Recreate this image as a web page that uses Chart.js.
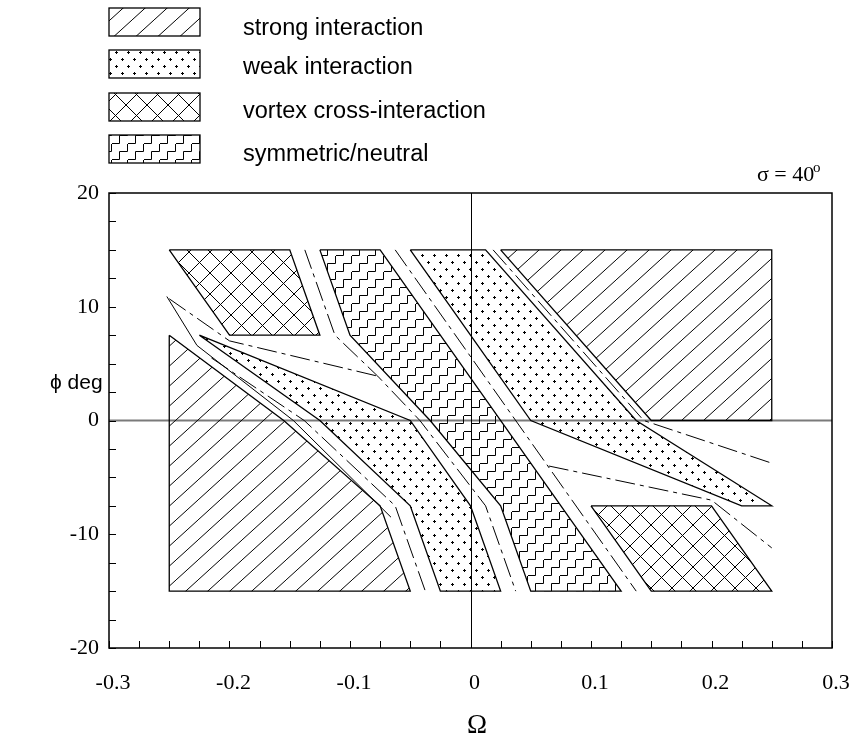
<!DOCTYPE html>
<html>
<head>
<meta charset="utf-8">
<title>Interaction regions, sigma = 40</title>
<script src="https://cdn.jsdelivr.net/npm/chart.js@4.4.1/dist/chart.umd.min.js"></script>
<style>
  html, body { margin: 0; padding: 0; background: #fff; }
  #chart { display: block; }
</style>
</head>
<body>
<canvas id="chart" width="852" height="739"></canvas>
<script>
// region outlines, in data units (Omega, phi deg)
const strongAX = [0.025, 0.25, 0.25, 0.15];
const strongAY = [15, 15, 0, 0];
const strongBX = [-0.25, -0.155, -0.075, -0.05, -0.25];
const strongBY = [7.5, 0, -7.5, -15, -15];

const weakAX = [-0.05, 0.0125, 0.1375, 0.25, 0.225, 0.05, 0];
const weakAY = [15, 15, 0, -7.5, -7.5, 0, 7.5];
const weakBX = [-0.225, -0.05, 0, 0.025, -0.025, -0.05, -0.125];
const weakBY = [7.5, 0, -7.5, -15, -15, -7.5, 0];

const vortexAX = [-0.25, -0.15, -0.125, -0.2];
const vortexAY = [15, 15, 7.5, 7.5];
const vortexBX = [0.1, 0.2, 0.25, 0.15];
const vortexBY = [-7.5, -7.5, -15, -15];

const neutralX = [-0.125, -0.075, 0.125, 0.05, 0.025, -0.0335, -0.1];
const neutralY = [15, 15, -15, -15, -7.5, 0, 7.5];

// dash-dot boundary lines
const ddAX = [-0.1375, -0.1125, -0.077, -0.042, 0.0125, 0.0375];
const ddAY = [15, 7.5, 3.9, 0, -7.5, -15];
const ddBX = [-0.215, -0.138, -0.0625, -0.0375];
const ddBY = [5.5, 0, -7.5, -15];
const ddCX = [0.01875, 0.14375, 0.25];
const ddCY = [15, 0, -3.75];
const ddDX = [-0.0625, 0.1375];
const ddDY = [15, -15];
const ddQX = [-0.25, -0.2, -0.077];
const ddQY = [10.7, 7, 3.9];
const ddRX = [0.065, 0.2, 0.25];
const ddRY = [-4, -7, -11.2];
// extra solid line on the left
const solidPX = [-0.252, -0.227, -0.147, -0.066];
const solidPY = [10.9, 6.6, 0, -8.5];

const legendLabels = ['strong interaction', 'weak interaction', 'vortex cross-interaction', 'symmetric/neutral'];
const legendKinds = ['strong', 'weak', 'vortex', 'neutral'];
const xTickLabels = [-0.3, -0.2, -0.1, 0, 0.1, 0.2, 0.3];
const yTickLabels = [-20, -10, 0, 10, 20];

const canvas = document.getElementById('chart');
const mainCtx = canvas.getContext('2d');

function makePattern(kind) {
  const c = document.createElement('canvas');
  const g = c.getContext('2d');
  if (kind === 'strong') {
    c.width = 22; c.height = 20;
  } else if (kind === 'weak') {
    c.width = 12; c.height = 14;
  } else if (kind === 'vortex') {
    c.width = 21; c.height = 21;
  } else {
    c.width = 16; c.height = 16;
  }
  g.strokeStyle = '#000';
  g.fillStyle = '#000';
  g.lineWidth = 1;
  g.beginPath();
  if (kind === 'strong') {
    for (const dx of [-22, 0, 22]) { g.moveTo(dx, 20); g.lineTo(dx + 22, 0); }
    g.stroke();
  } else if (kind === 'weak') {
    for (const [px, py] of [[2, 3], [8, 10]]) {
      g.fillRect(px - 1, py, 3, 1);
      g.fillRect(px, py - 1, 1, 3);
    }
  } else if (kind === 'vortex') {
    for (const dx of [-21, 0, 21]) {
      g.moveTo(dx, 0); g.lineTo(dx + 21, 21);
      g.moveTo(dx + 21, 0); g.lineTo(dx, 21);
    }
    g.stroke();
  } else {
    // staircase: two 8px steps per tile
    g.moveTo(0, 15.5); g.lineTo(7.5, 15.5); g.lineTo(7.5, 7.5);
    g.lineTo(15.5, 7.5); g.lineTo(15.5, -1);
    g.stroke();
  }
  return mainCtx.createPattern(c, 'repeat');
}

const patterns = {};
legendKinds.forEach(k => { patterns[k] = makePattern(k); });

function pts(xs, ys, close) {
  const out = xs.map((x, i) => ({ x: x, y: ys[i] }));
  if (close) out.push({ x: xs[0], y: ys[0] });
  return out;
}

function region(xs, ys, kind) {
  return {
    data: pts(xs, ys, true),
    fill: 'shape',
    backgroundColor: patterns[kind],
    borderColor: '#000',
    borderWidth: 1.3,
    pointRadius: 0,
    tension: 0
  };
}

function line(xs, ys, dashed) {
  return {
    data: pts(xs, ys, false),
    fill: false,
    borderColor: '#000',
    borderWidth: 1,
    borderDash: dashed ? [20, 5, 4, 5] : [],
    pointRadius: 0,
    tension: 0
  };
}

const datasets = [
  region(strongAX, strongAY, 'strong'),
  region(strongBX, strongBY, 'strong'),
  region(weakAX, weakAY, 'weak'),
  region(weakBX, weakBY, 'weak'),
  region(vortexAX, vortexAY, 'vortex'),
  region(vortexBX, vortexBY, 'vortex'),
  region(neutralX, neutralY, 'neutral'),
  line(ddAX, ddAY, true),
  line(ddBX, ddBY, true),
  line(ddCX, ddCY, true),
  line(ddDX, ddDY, true),
  line(ddQX, ddQY, true),
  line(ddRX, ddRY, true),
  line(solidPX, solidPY, false)
];

const decor = {
  id: 'decor',
  beforeDatasetsDraw(chart) {
    const { ctx, chartArea: a, scales: { x, y } } = chart;
    ctx.save();
    // zero lines
    ctx.strokeStyle = '#7a7a7a';
    ctx.lineWidth = 2;
    const y0 = y.getPixelForValue(0);
    ctx.beginPath(); ctx.moveTo(a.left, y0); ctx.lineTo(a.right, y0); ctx.stroke();
    ctx.strokeStyle = '#000';
    ctx.lineWidth = 1;
    const x0 = Math.round(x.getPixelForValue(0)) + 0.5;
    ctx.beginPath(); ctx.moveTo(x0, a.top); ctx.lineTo(x0, a.bottom); ctx.stroke();
    ctx.restore();
  },
  afterDatasetsDraw(chart) {
    const { ctx, chartArea: a, scales: { x, y } } = chart;
    ctx.save();
    ctx.strokeStyle = '#000';
    ctx.lineWidth = 1.5;
    ctx.strokeRect(a.left, a.top, a.right - a.left, a.bottom - a.top);
    ctx.lineWidth = 1;
    ctx.beginPath();
    x.ticks.forEach(t => {
      const px = Math.round(x.getPixelForValue(t.value)) + 0.5;
      ctx.moveTo(px, a.bottom); ctx.lineTo(px, a.bottom - 7);
    });
    y.ticks.forEach(t => {
      const py = Math.round(y.getPixelForValue(t.value)) + 0.5;
      ctx.moveTo(a.left, py); ctx.lineTo(a.left + 7, py);
    });
    ctx.stroke();
    ctx.restore();
  },
  afterDraw(chart) {
    const ctx = chart.ctx;
    ctx.save();
    // legend
    const boxTops = [8, 50, 93, 135];
    const textBase = [35, 74, 118, 161];
    legendKinds.forEach((k, i) => {
      ctx.fillStyle = '#fff';
      ctx.fillRect(109, boxTops[i], 91, 28);
      ctx.fillStyle = patterns[k];
      ctx.fillRect(109, boxTops[i], 91, 28);
      ctx.strokeStyle = '#000';
      ctx.lineWidth = 1.3;
      ctx.strokeRect(109, boxTops[i], 91, 28);
      ctx.fillStyle = '#000';
      ctx.font = '23.5px "Liberation Sans", Arial, sans-serif';
      ctx.textAlign = 'left';
      ctx.textBaseline = 'alphabetic';
      ctx.fillText(legendLabels[i], 243, textBase[i]);
    });
    // sigma annotation
    ctx.font = '22px "Liberation Serif", "Times New Roman", serif';
    ctx.fillText('\u03C3 = 40', 757, 181);
    ctx.font = '15px "Liberation Serif", "Times New Roman", serif';
    ctx.fillText('o', 813, 172);
    // axis titles
    ctx.font = '21px "Liberation Sans", "DejaVu Sans", sans-serif';
    ctx.textBaseline = 'middle';
    ctx.fillText('\u03D5 deg', 50, 383);
    ctx.font = '27px "Liberation Serif", "DejaVu Serif", serif';
    ctx.textAlign = 'center';
    ctx.textBaseline = 'alphabetic';
    ctx.fillText('\u03A9', 477, 733);
    ctx.restore();
  }
};

const tickFont = { family: '"Liberation Serif", "Times New Roman", serif', size: 22 };

new Chart(canvas, {
  type: 'line',
  data: { datasets: datasets },
  plugins: [decor],
  options: {
    responsive: false,
    animation: false,
    events: [],
    layout: { padding: { top: 193, right: 20, left: 0, bottom: 0 } },
    plugins: { legend: { display: false }, tooltip: { enabled: false } },
    scales: {
      x: {
        type: 'linear',
        min: -0.3,
        max: 0.3,
        grid: { display: false, drawTicks: false },
        border: { display: false },
        ticks: {
          stepSize: 0.025,
          autoSkip: false,
          maxRotation: 0,
          padding: 22,
          labelOffset: 4,
          color: '#000',
          font: tickFont,
          callback: v => {
            const r = Math.round(v * 10) / 10;
            return Math.abs(v - r) < 1e-6 && xTickLabels.includes(r) ? String(r) : '';
          }
        },
        afterFit: s => { s.height = 91; s.paddingLeft = 0; s.paddingRight = 0; }
      },
      y: {
        type: 'linear',
        min: -20,
        max: 20,
        grid: { display: false, drawTicks: false },
        border: { display: false },
        ticks: {
          stepSize: 2.5,
          autoSkip: false,
          padding: 10,
          color: '#000',
          font: tickFont,
          callback: v => (yTickLabels.includes(v) ? String(v) : '')
        },
        afterFit: s => { s.width = 109; s.paddingTop = 0; s.paddingBottom = 0; }
      }
    }
  }
});
</script>
</body>
</html>
